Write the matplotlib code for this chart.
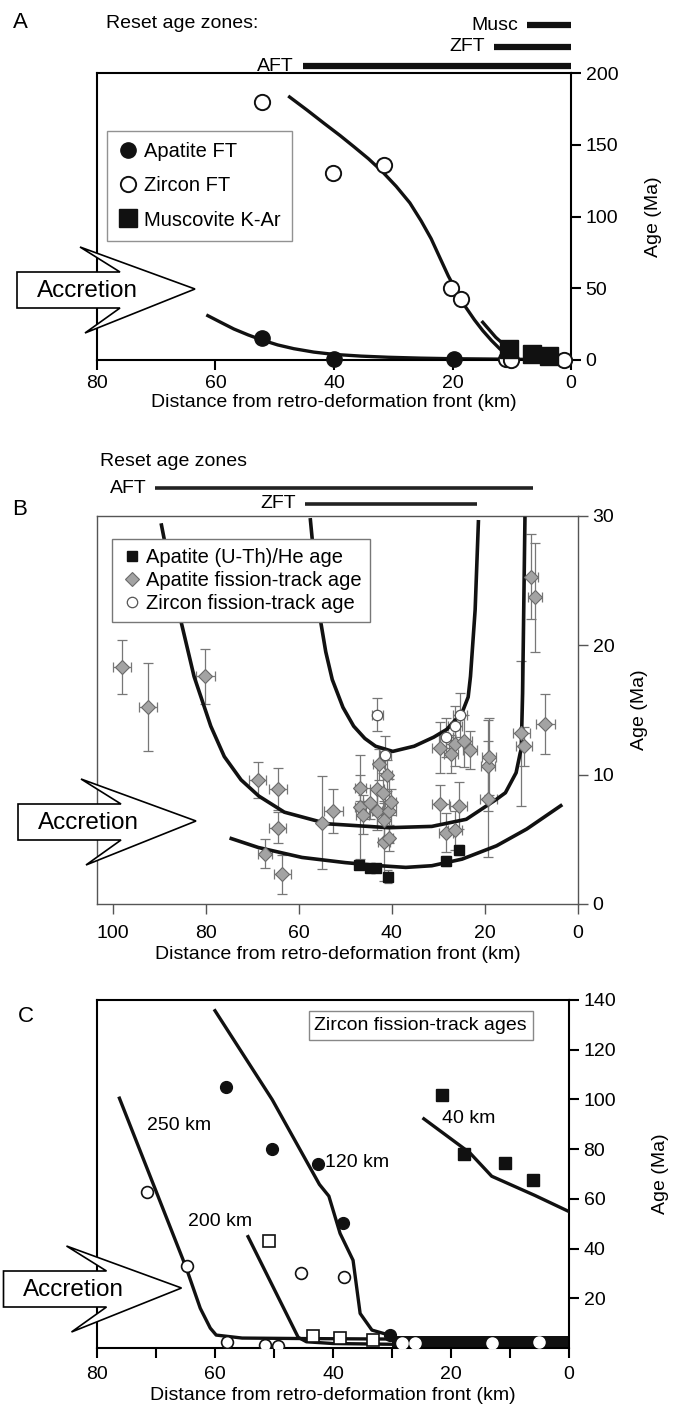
import numpy as np
import matplotlib
matplotlib.use('Agg')
import matplotlib.pyplot as plt
import matplotlib.transforms as mtransforms
from matplotlib.patches import Polygon

plt.rcParams['font.family'] = ['Liberation Sans', 'DejaVu Sans']
plt.rcParams['font.size'] = 14

# ---------------- panel A data ----------------
a_aft_x = [52.2, 40.0, 19.8]
a_aft_y = [15.3, 0.8, 0.9]
a_zft_x = [52.2, 40.1, 31.6, 20.3, 18.6, 11.0, 10.1, 1.2]
a_zft_y = [180.0, 130.0, 135.6, 50.0, 42.5, 0.5, 0.0, 0.3]
a_mus_x = [10.5, 6.6, 3.7]
a_mus_y = [7.5, 4.5, 2.5]
a_zcurve_x = [47.5, 44.5, 41.7, 39.0, 36.6, 34.2, 31.9, 29.5, 27.2, 25.3, 23.6, 22.1, 20.7,
              19.2, 17.8, 16.3, 14.9, 13.4, 12.0, 10.3, 9.4]
a_zcurve_y = [183.3, 174.0, 165.0, 156.5, 148.5, 140.3, 131.5, 121.0, 109.5, 97.0, 84.5,
              71.0, 58.5, 47.0, 37.0, 28.0, 20.5, 13.5, 7.7, 2.5, 1.0]
a_acurve_x = [61.3, 58.9, 56.9, 54.5, 52.2, 49.5, 46.8, 43.4, 40.0, 35.4, 30.8, 25.4, 20.0,
              9.1, 1.8]
a_acurve_y = [30.9, 25.8, 21.6, 17.5, 14.0, 10.5, 7.9, 5.5, 3.9, 2.7, 1.9, 1.3, 0.9,
              0.5, 0.2]
a_mcurve_x = [14.9, 12.7, 10.5]
a_mcurve_y = [26.3, 15.8, 7.7]
a_zone_names = ['Musc', 'ZFT', 'AFT']
a_zone_start = [7.4, 13.0, 45.3]
a_zone_end = [0.0, 0.0, 0.0]

# ---------------- panel B data ----------------
b_aft_x = [98.0, 92.4, 80.1, 68.8, 64.5, 64.5, 67.3, 63.5, 52.6, 54.9, 46.8, 46.8, 46.3, 44.7,
           42.8, 43.1, 43.1, 41.9, 41.0, 41.7, 40.7, 40.2, 41.7, 40.7, 29.6, 27.3, 26.5, 24.5,
           23.3, 29.6, 25.6, 28.4, 26.5, 19.3, 19.1, 19.3, 12.2, 11.6, 10.0, 9.3, 7.0]
b_aft_y = [18.3, 15.2, 17.6, 9.6, 8.9, 5.9, 3.9, 2.3, 7.2, 6.3, 9.0, 7.5, 6.9, 7.8,
           10.8, 8.9, 7.2, 8.6, 9.95, 6.5, 7.2, 7.9, 4.8, 5.1, 12.1, 11.6, 12.4, 12.6,
           11.9, 7.7, 7.6, 5.5, 5.7, 10.7, 11.4, 8.1, 13.2, 12.2, 25.3, 23.7, 13.9]
b_aft_yerr = [2.1, 3.4, 2.1, 1.4, 1.6, 1.2, 1.1, 1.5, 1.7, 3.6, 1.0, 4.0, 1.5, 1.2,
              1.2, 2.0, 1.5, 1.5, 1.2, 1.5, 2.5, 1.0, 3.0, 1.0, 2.0, 1.5, 1.7, 2.0,
              1.5, 1.5, 1.8, 1.5, 1.5, 3.5, 3.0, 4.5, 5.6, 1.5, 3.3, 4.2, 2.3]
b_aft_xerr = [1.9, 2.0, 2.0, 1.8, 2.0, 1.8, 1.5, 1.8, 2.0, 0.0, 1.2, 1.2, 1.5, 1.5,
              1.2, 1.5, 1.2, 1.2, 1.0, 1.5, 1.5, 1.2, 1.2, 1.0, 1.8, 1.5, 1.8, 1.8,
              1.5, 1.8, 1.8, 1.5, 1.5, 1.5, 1.5, 1.8, 1.8, 1.8, 1.5, 1.5, 2.0]
b_zft_x = [43.1, 41.4, 28.4, 26.5, 25.4]
b_zft_y = [14.65, 11.5, 12.9, 13.8, 14.6]
b_zft_yerr = [1.3, 1.5, 1.5, 1.5, 1.7]
b_zft_xerr = [1.2, 1.2, 1.5, 1.5, 1.5]
b_he_x = [47.1, 44.7, 43.5, 40.9, 28.4, 25.6]
b_he_y = [3.0, 2.8, 2.75, 2.1, 3.3, 4.2]
b_he_yerr = [0.3, 0.3, 0.3, 0.5, 0.4, 0.4]
b_c1_x = [89.5, 87.6, 85.4, 82.5, 78.9, 76.0, 72.4, 68.6, 63.1, 53.8, 40.7, 31.4, 24.0,
          17.5, 15.6, 13.3, 12.4, 12.2, 11.9, 11.4]
b_c1_y = [29.3, 25.8, 22.0, 17.6, 13.75, 11.4, 9.6, 8.35, 7.1, 6.2, 5.9, 6.0, 6.55,
          8.1, 8.6, 10.15, 11.7, 11.95, 16.3, 29.8]
b_c2_x = [57.5, 55.6, 54.2, 52.8, 50.5, 48.2, 45.8, 43.5, 39.8, 35.2, 31.0, 28.2, 24.9,
          23.6, 23.1, 22.1, 21.4]
b_c2_y = [29.7, 22.5, 19.5, 17.35, 15.2, 13.75, 12.8, 12.2, 11.8, 12.2, 12.9, 13.5, 14.8,
          16.0, 17.6, 22.75, 29.55]
b_c3_x = [74.5, 68.7, 59.3, 50.0, 42.6, 37.0, 31.4, 24.9, 17.5, 11.0, 3.7]
b_c3_y = [5.06, 4.37, 3.6, 3.2, 2.96, 2.83, 2.96, 3.47, 4.5, 5.8, 7.6]
b_zone_names = ['AFT', 'ZFT']
b_zone_start = [90.8, 58.7]
b_zone_end = [9.7, 21.8]

# ---------------- panel C data ----------------
c120_x = [58.2, 50.3, 42.5, 38.3, 30.3]
c120_y = [105.2, 80.1, 74.0, 50.4, 5.2]
c250_x = [71.6, 64.7, 45.4, 38.1, 57.9, 51.5, 49.3]
c250_y = [62.8, 32.8, 30.1, 28.4, 2.3, 1.2, 0.7]
c_band_pts_x = [28.3, 26.1, 13.0, 5.1]
c_band_pts_y = [2.0, 2.1, 2.0, 2.4]
c200_x = [50.8, 43.4, 38.8, 33.3]
c200_y = [43.0, 4.9, 3.9, 3.2]
c40_x = [21.6, 17.8, 10.8, 6.1]
c40_y = [101.6, 78.0, 74.3, 67.5]
cl250_x = [76.2, 64.9, 62.5, 60.8, 59.8, 55.4, 45.2, 30.0]
cl250_y = [100.5, 32.4, 16.0, 8.0, 5.2, 4.0, 3.8, 3.6]
cl120_x = [60.0, 50.3, 42.3, 40.7, 38.8, 36.6, 35.4, 33.4, 31.5, 30.3]
cl120_y = [135.7, 99.9, 65.8, 61.1, 46.1, 35.3, 13.9, 7.2, 5.9, 5.2]
cl200_x = [54.4, 45.9, 44.5, 40.0, 30.0]
cl200_y = [44.8, 4.3, 2.5, 1.8, 1.5]
cl40_x = [24.6, 16.8, 13.1, 5.8, 0.1]
cl40_y = [92.2, 78.5, 69.1, 61.4, 55.0]
c_band_x = [30.0, 0.0]
c_band_top = [4.8, 4.8]
c_labels = ['250 km', '120 km', '200 km', '40 km']
c_label_x = [66.1, 35.9, 59.2, 17.0]
c_label_y = [89.4, 74.7, 51.0, 92.5]

W, H = 676, 1405
fig = plt.figure(figsize=(W / 100, H / 100), dpi=100)


def px_axes(l, t, r, b):
    return fig.add_axes([l / W, 1 - b / H, (r - l) / W, (b - t) / H])


def fig_text(x, y, s, **kw):
    fig.text(x / W, 1 - y / H, s, **kw)


def accretion(x0, yc):
    # block arrow drawn in pixel space
    pts = [(x0, yc - 18), (x0 + 103, yc - 18), (x0 + 63, yc - 43), (x0 + 178, yc - 1),
           (x0 + 68, yc + 43), (x0 + 103, yc + 18), (x0, yc + 18)]
    pts = [(x / W, 1 - y / H) for x, y in pts]
    fig.add_artist(Polygon(pts, closed=True, facecolor='white', edgecolor='black',
                           linewidth=1.2, transform=fig.transFigure, zorder=10))
    fig_text(x0 + 70, yc + 1, 'Accretion', fontsize=17.5, ha='center', va='center', zorder=11)


def style(ax, spine_col, lw, xpad=3.5):
    ax.yaxis.tick_right()
    ax.yaxis.set_label_position('right')
    for s in ax.spines.values():
        s.set_color(spine_col)
        s.set_linewidth(lw)
    ax.tick_params(direction='out', length=7, width=lw, colors=spine_col,
                   labelcolor='black', labelsize=14)
    ax.tick_params(axis='x', pad=xpad)


# ================= A =================
ax = px_axes(97, 73, 571, 360)
style(ax, 'black', 1.5)
ax.set_xlim(80, 0)
ax.set_ylim(0, 200)
ax.set_xticks([80, 60, 40, 20, 0])
ax.set_yticks([0, 50, 100, 150, 200])
ax.plot(a_zcurve_x, a_zcurve_y, color='#111111', lw=2.4, zorder=2)
ax.plot(a_acurve_x, a_acurve_y, color='#111111', lw=2.4, zorder=2)
ax.plot(a_mcurve_x, a_mcurve_y, color='#111111', lw=2.4, zorder=2)
ax.plot(a_aft_x, a_aft_y, 'o', ms=11, mfc='#111111', mec='#111111', ls='none',
        label='Apatite FT', zorder=4, clip_on=False)
ax.plot(a_zft_x, a_zft_y, 'o', ms=11, mfc='white', mec='#111111', mew=1.4, ls='none',
        label='Zircon FT', zorder=3, clip_on=False)
ax.plot(a_mus_x, a_mus_y, 's', ms=12.5, mfc='#111111', mec='#111111', ls='none',
        label='Muscovite K-Ar', zorder=5, clip_on=False)
leg = ax.legend(loc='upper left', bbox_to_anchor=(0.021, 0.797), fontsize=14.5,
                frameon=True, fancybox=False, edgecolor='#777777', handletextpad=0.3,
                borderpad=0.55, labelspacing=0.75, handlelength=1.0, borderaxespad=0)
leg.get_frame().set_linewidth(1.0)
ax.set_xlabel('Distance from retro-deformation front (km)', fontsize=14, labelpad=2)
ax.set_ylabel('Age (Ma)', fontsize=14, labelpad=19)
trA = mtransforms.blended_transform_factory(ax.transData, ax.transAxes)
for name, x0, x1, yy in zip(a_zone_names, a_zone_start, a_zone_end, [1.167, 1.091, 1.024]):
    ax.plot([x0, x1], [yy, yy], color='#111111', lw=4.5, solid_capstyle='butt',
            transform=trA, clip_on=False)
    ax.text(x0 + 1.5, yy, name, transform=trA, ha='right', va='center', fontsize=14)
fig_text(20, 23, 'A', fontsize=16, va='center', ha='center')
fig_text(106, 24, 'Reset age zones:', fontsize=14, va='center')
accretion(17, 290)

# ================= B =================
ax = px_axes(97, 516, 578, 904)
style(ax, '#555555', 1.0, xpad=8)
ax.set_xlim(103.35, 0)
ax.set_ylim(0, 30)
ax.set_xticks([100, 80, 60, 40, 20, 0])
ax.set_yticks([0, 10, 20, 30])
ax.errorbar(b_aft_x, b_aft_y, yerr=b_aft_yerr, xerr=b_aft_xerr, fmt='none',
            ecolor='#777777', elinewidth=0.9, capsize=3.5, capthick=0.9, zorder=2)
ax.errorbar(b_zft_x, b_zft_y, yerr=b_zft_yerr, xerr=b_zft_xerr, fmt='none',
            ecolor='#777777', elinewidth=0.9, capsize=3.5, capthick=0.9, zorder=2)
ax.errorbar(b_he_x, b_he_y, yerr=b_he_yerr, fmt='none',
            ecolor='#777777', elinewidth=0.9, capsize=3, capthick=0.9, zorder=2)
ax.plot(b_c1_x, b_c1_y, color='#111111', lw=2.6, zorder=3)
ax.plot(b_c2_x, b_c2_y, color='#111111', lw=2.6, zorder=3)
ax.plot(b_c3_x, b_c3_y, color='#111111', lw=2.6, zorder=3)
ax.plot(b_he_x, b_he_y, 's', ms=6.5, mfc='#111111', mec='#111111', ls='none',
        label='Apatite (U-Th)/He age', zorder=5)
ax.plot(b_aft_x, b_aft_y, 'D', ms=7.5, mfc='#a3a3a3', mec='#6a6a6a', mew=0.8, ls='none',
        label='Apatite fission-track age', zorder=4)
ax.plot(b_zft_x, b_zft_y, 'o', ms=7.5, mfc='white', mec='#555555', mew=0.9, ls='none',
        label='Zircon fission-track age', zorder=4)
leg = ax.legend(loc='upper left', bbox_to_anchor=(0.032, 0.941), fontsize=14.5,
                frameon=True, fancybox=False, edgecolor='#777777', handletextpad=0.2,
                borderpad=0.45, labelspacing=0.2, handlelength=1.0, framealpha=1,
                borderaxespad=0)
leg.get_frame().set_linewidth(1.0)
leg.set_zorder(6)
ax.set_xlabel('Distance from retro-deformation front (km)', fontsize=14, labelpad=3)
ax.set_ylabel('Age (Ma)', fontsize=14, labelpad=12)
trB = mtransforms.blended_transform_factory(ax.transData, ax.transAxes)
for name, x0, x1, yy in zip(b_zone_names, b_zone_start, b_zone_end, [1.072, 1.031]):
    ax.plot([x0, x1], [yy, yy], color='#222222', lw=2.6, solid_capstyle='butt',
            transform=trB, clip_on=False)
    ax.text(x0 + 1.8, yy, name, transform=trB, ha='right', va='center', fontsize=14)
fig_text(20, 510, 'B', fontsize=16, va='center', ha='center')
fig_text(100, 462, 'Reset age zones', fontsize=14, va='center')
accretion(18, 822)

# ================= C =================
ax = px_axes(97, 1000, 569, 1348)
style(ax, 'black', 1.5, xpad=6)
ax.set_xlim(80, 0)
ax.set_ylim(0, 140)
ax.set_xticks([80, 60, 40, 20, 0])
ax.set_xticks([70, 50, 30, 10], minor=True)
ax.tick_params(which='minor', direction='out', length=7, width=1.5)
ax.set_yticks([20, 40, 60, 80, 100, 120, 140])
ax.fill_between(c_band_x, 0, c_band_top, color='#111111', lw=0, zorder=2)
ax.plot(cl250_x, cl250_y, color='#111111', lw=2.4, zorder=3)
ax.plot(cl120_x, cl120_y, color='#111111', lw=2.4, zorder=3)
ax.plot(cl200_x, cl200_y, color='#111111', lw=2.4, zorder=3)
ax.plot(cl40_x, cl40_y, color='#111111', lw=2.4, zorder=3)
ax.plot(c120_x, c120_y, 'o', ms=8.5, mfc='#111111', mec='#111111', ls='none', zorder=4)
ax.plot(c250_x, c250_y, 'o', ms=8.5, mfc='white', mec='#111111', mew=1.2, ls='none', zorder=4)
ax.plot(c_band_pts_x, c_band_pts_y, 'o', ms=8, mfc='white', mec='white', ls='none', zorder=4)
ax.plot(c200_x, c200_y, 's', ms=8.5, mfc='white', mec='#111111', mew=1.2, ls='none', zorder=4)
ax.plot(c40_x, c40_y, 's', ms=9, mfc='#111111', mec='#111111', ls='none', zorder=4)
for s, x, y in zip(c_labels, c_label_x, c_label_y):
    ax.text(x, y, s, ha='center', va='center', fontsize=14)
ax.text(0.686, 0.926, 'Zircon fission-track ages', transform=ax.transAxes, ha='center',
        va='center', fontsize=14,
        bbox=dict(boxstyle='square,pad=0.3', facecolor='white', edgecolor='#888888', lw=1.0))
ax.set_xlabel('Distance from retro-deformation front (km)', fontsize=14, labelpad=3)
ax.set_ylabel('Age (Ma)', fontsize=14, labelpad=26)
fig_text(26, 1017, 'C', fontsize=16, va='center', ha='center')
accretion(3.5, 1289)

fig.savefig('out.png', dpi=100)
